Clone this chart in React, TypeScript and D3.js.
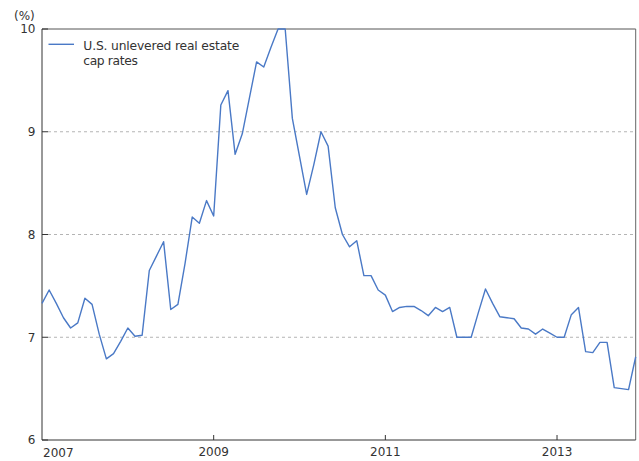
import { useMemo } from "react"
import * as d3 from "d3"

// monthly, Jan 2007 .. Dec 2013
const years = [2007, 2008, 2009, 2010, 2011, 2012, 2013]
const capRates = [
  // 2007
  7.33, 7.46, 7.33, 7.19, 7.09, 7.14, 7.38, 7.32, 7.03, 6.79, 6.84, 6.96,
  // 2008
  7.09, 7.01, 7.02, 7.65, 7.79, 7.93, 7.27, 7.32, 7.72, 8.17, 8.11, 8.33,
  // 2009
  8.18, 9.26, 9.4, 8.78, 8.98, 9.33, 9.68, 9.63, 9.82, 10.0, 10.0, 9.13,
  // 2010
  8.76, 8.39, 8.68, 9.0, 8.86, 8.26, 8.0, 7.88, 7.94, 7.6, 7.6, 7.46,
  // 2011
  7.41, 7.25, 7.29, 7.3, 7.3, 7.26, 7.21, 7.29, 7.25, 7.29, 7.0, 7.0,
  // 2012
  7.0, 7.24, 7.47, 7.33, 7.2, 7.19, 7.18, 7.09, 7.08, 7.03, 7.08, 7.04,
  // 2013
  7.0, 7.0, 7.22, 7.29, 6.86, 6.85, 6.95, 6.95, 6.51, 6.5, 6.49, 6.81,
]
const yTicks = [6, 7, 8, 9, 10]
const gridTicks = [7, 8, 9]
const xTickYears = [2007, 2009, 2011, 2013]
const seriesLabel = ["U.S. unlevered real estate", "cap rates"]

const W = 639
const H = 461
const margin = { top: 29, right: 3.3, bottom: 21, left: 42 }
const font = "'DejaVu Sans', Verdana, sans-serif"

export default function App() {
  const innerW = W - margin.left - margin.right
  const innerH = H - margin.top - margin.bottom

  const x = useMemo(
    () => d3.scaleLinear().domain([0, years.length * 12 - 1]).range([0, innerW]),
    [innerW]
  )
  const y = useMemo(() => d3.scaleLinear().domain([6, 10]).range([innerH, 0]), [innerH])

  const line = d3
    .line<number>()
    .x((_, i) => x(i))
    .y((d) => y(d))

  const monthOf = (yr: number) => (yr - years[0]) * 12

  return (
    <svg
      width={W}
      height={H}
      style={{ position: "absolute", left: 0, top: 0, background: "#fff" }}
      fontFamily={font}
    >
      <text x={14} y={20} fontSize={12} fill="#333">
        (%)
      </text>
      <g transform={`translate(${margin.left},${margin.top})`}>
        {/* grid */}
        {gridTicks.map((t) => (
          <line
            key={t}
            x1={6}
            x2={innerW}
            y1={y(t)}
            y2={y(t)}
            stroke="#b4b4b4"
            strokeWidth={1}
            strokeDasharray="3,3"
          />
        ))}

        {/* frame */}
        <line x1={0} x2={innerW} y1={0} y2={0} stroke="#555" />
        <line x1={innerW} x2={innerW} y1={0} y2={innerH} stroke="#666" />
        <line x1={0} x2={0} y1={0} y2={innerH} stroke="#333" />
        <line x1={0} x2={innerW} y1={innerH} y2={innerH} stroke="#333" />

        {/* y ticks */}
        {yTicks.map((t) => (
          <g key={t} transform={`translate(0,${y(t)})`}>
            <line x1={0} x2={6} stroke="#333" />
            <text x={-6.5} dy="0.36em" textAnchor="end" fontSize={12} fill="#333">
              {t}
            </text>
          </g>
        ))}

        {/* x ticks */}
        {xTickYears.map((yr, i) => (
          <g key={yr} transform={`translate(${x(monthOf(yr))},${innerH})`}>
            {i > 0 && <line y1={0} y2={-5} stroke="#333" />}
            <text
              x={i === 0 ? 1 : 0}
              y={i === 0 ? 17 : 16}
              textAnchor={i === 0 ? "start" : "middle"}
              fontSize={12}
              fill="#333"
            >
              {yr}
            </text>
          </g>
        ))}

        {/* series */}
        <path
          d={line(capRates) || ""}
          fill="none"
          stroke="#4a79c6"
          strokeWidth={1.4}
          strokeLinejoin="round"
        />

        {/* legend */}
        <line x1={6.5} x2={32} y1={15.3} y2={15.3} stroke="#4a79c6" strokeWidth={1.4} />
        {seriesLabel.map((s, i) => (
          <text
            key={s}
            x={41.3}
            y={21 + i * 14.5}
            fontSize={12.3}
            fill="#333"
            textLength={i === 0 ? 156 : 54.5}
            lengthAdjust="spacing"
          >
            {s}
          </text>
        ))}
      </g>
    </svg>
  )
}
